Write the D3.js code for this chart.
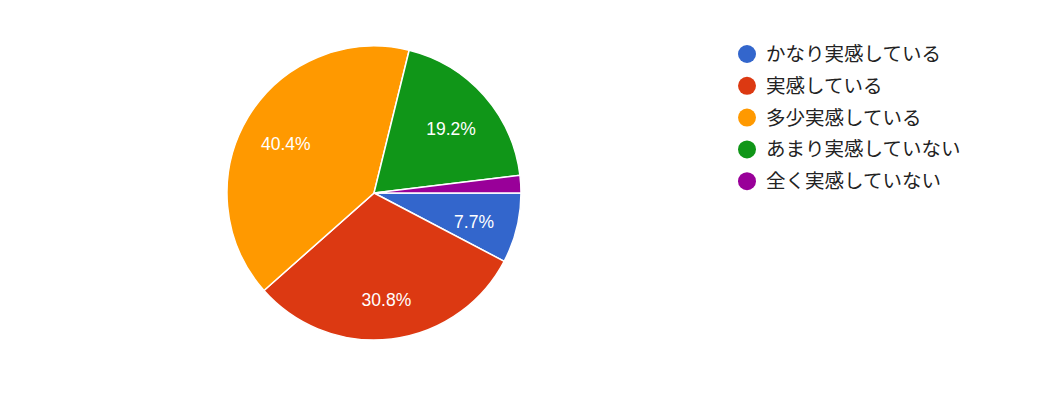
<!DOCTYPE html>
<html>
<head>
<meta charset="utf-8">
<script src="https://cdn.jsdelivr.net/npm/d3@7"></script>
<style>
  body { margin: 0; background: #fff; }
</style>
</head>
<body>
<div id="chart"></div>
<script>
// answers (52 responses)
const categories = ['かなり実感している', '実感している', '多少実感している', 'あまり実感していない', '全く実感していない'];
const counts = [4, 16, 21, 10, 1];
const colors = ['#3366cc', '#dc3912', '#ff9900', '#109618', '#990099'];

const width = 1039, height = 417;
const cx = 374, cy = 193, radius = 147;

let svg = d3.select('#chart').append('svg')
    .attr('width', width)
    .attr('height', height);

let total = d3.sum(counts);
let data = categories.map((c, i) => ({ name: c, value: counts[i], color: colors[i] }));

let pie = d3.pie()
    .value(d => d.value)
    .sort(null)
    .startAngle(Math.PI / 2)
    .endAngle(Math.PI / 2 + 2 * Math.PI);

let arc = d3.arc().innerRadius(0).outerRadius(radius);
let labelArc = d3.arc().innerRadius(103).outerRadius(103);

let g = svg.append('g').attr('transform', `translate(${cx},${cy})`);

g.selectAll('.slice')
    .data(pie(data))
    .enter()
    .append('path')
    .attr('class', 'slice')
    .attr('d', arc)
    .attr('fill', d => d.data.color)
    .attr('stroke', '#fff')
    .attr('stroke-width', 1.5);

// percent labels, hidden for tiny slices
g.selectAll('.pct')
    .data(pie(data).filter(d => d.data.value / total > 0.05))
    .enter()
    .append('text')
    .attr('class', 'pct')
    .attr('transform', d => `translate(${labelArc.centroid(d)})`)
    .attr('text-anchor', 'middle')
    .attr('dy', '0.6em')
    .style('font-family', '"Liberation Sans", Arial, sans-serif')
    .style('font-size', '17.5px')
    .style('fill', '#fff')
    .text(d => (d.data.value / total * 100).toFixed(1) + '%');

// legend
let legend = svg.append('g').attr('transform', 'translate(747,54)');
let rows = legend.selectAll('.nameLegend')
    .data(data)
    .enter()
    .append('g')
    .attr('class', 'nameLegend')
    .attr('transform', (d, i) => `translate(0,${i * 31.8})`);

rows.append('circle')
    .attr('r', 9)
    .attr('fill', d => d.color);

rows.append('text')
    .attr('x', 19)
    .attr('dy', '0.36em')
    .style('font-family', '"Noto Sans CJK JP", sans-serif')
    .style('font-size', '19.5px')
    .style('fill', '#222')
    .text(d => d.name);
</script>
</body>
</html>
